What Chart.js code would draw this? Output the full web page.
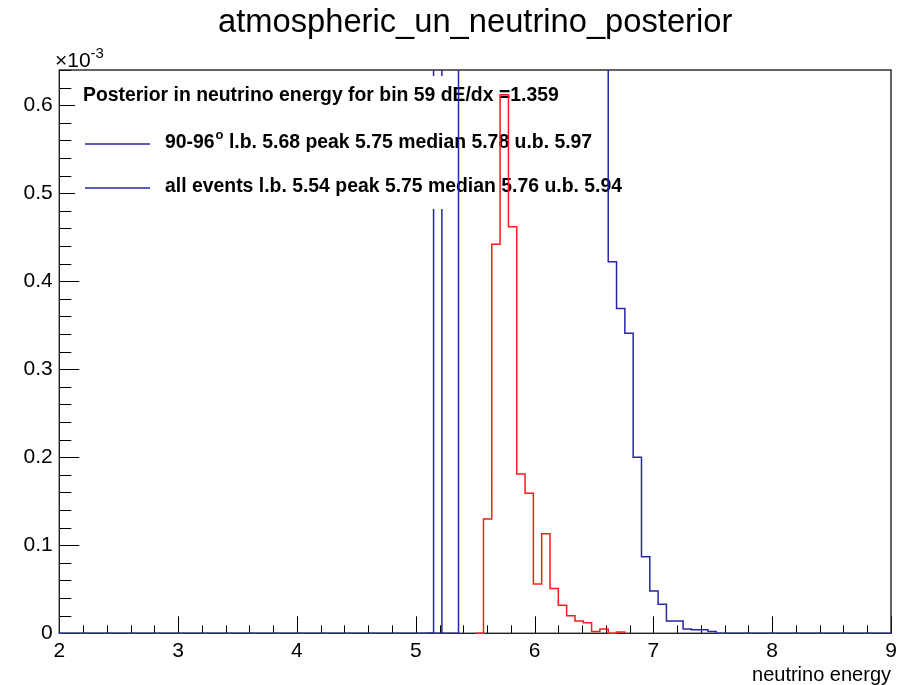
<!DOCTYPE html>
<html>
<head>
<meta charset="utf-8">
<script src="https://cdn.jsdelivr.net/npm/chart.js@4.4.1/dist/chart.umd.min.js"></script>
<style>
html,body{margin:0;padding:0;background:#fff;}
#wrap{width:905px;height:685px;position:relative;}
canvas{display:block;}
</style>
</head>
<body>
<div id="wrap"><canvas id="c" width="905" height="685"></canvas></div>
<script>
// ---------------- data ----------------
const xLow = 2, xHigh = 9, nBins = 100;        // histogram binning
const yMax = 0.64;                              // axis max, units of 1e-3
const xTickLabels = ['2', '3', '4', '5', '6', '7', '8', '9'];
const yTickLabels = ['0', '0.1', '0.2', '0.3', '0.4', '0.5', '0.6'];

// red posterior (no legend entry), units of 1e-3, starting at bin 51
const redFirstBin = 51;
const redValues = [0.130, 0.442, 0.612, 0.462, 0.181, 0.159, 0.056, 0.113, 0.051,
                   0.032, 0.020, 0.014, 0.012, 0.002, 0.005, 0.000, 0.0015];

// blue "90-96°": a single bin far above the frame (estimated)
const angFirstBin = 45;
const angValues = [3.0];

// blue "all events": bins 48-65 run above the frame (estimated), then the visible tail
const allFirstBin = 48;
const allValues = [1.1, 1.5, 1.9, 2.2, 2.4, 2.5, 2.5, 2.4, 2.2, 2.0, 1.8, 1.6, 1.4, 1.2, 1.0, 0.9, 0.8, 0.7,
                   0.422, 0.369, 0.341, 0.200, 0.087, 0.048, 0.033, 0.014, 0.014, 0.005, 0.004, 0.004, 0.002];

const titleText = 'atmospheric_un_neutrino_posterior';
const xAxisTitle = 'neutrino energy';
const legendHeader = 'Posterior in neutrino energy for bin 59 dE/dx =1.359';
const legendEntries = [
  { pre: '90-96', sup: 'o', post: ' l.b. 5.68 peak 5.75 median 5.78 u.b. 5.97' },
  { pre: 'all events l.b. 5.54 peak 5.75 median 5.76 u.b. 5.94', sup: '', post: '' }
];

// ---------------- helpers ----------------
const FONT = '"Liberation Sans", Arial, Helvetica, sans-serif';
const BLUE = '#2626a8';
const RED = '#ff1a1a';
const binW = (xHigh - xLow) / nBins;
function edge(k) { return xLow + k * binW; }
function histPoints(first, vals, fullRange) {
  const start = fullRange ? 0 : first - 1;
  const last = fullRange ? nBins - 1 : first + vals.length - 1;
  const pts = [];
  for (let k = start; k <= last; k++) {
    const v = (k >= first && k < first + vals.length) ? vals[k - first] : 0;
    pts.push({ x: edge(k), y: v });
  }
  pts.push({ x: edge(last + 1), y: 0 });
  return pts;
}

const rootPlugin = {
  id: 'rootStyle',
  beforeDatasetsDraw(chart) {
    const { ctx, chartArea: a, scales: { x, y } } = chart;
    ctx.save();
    ctx.strokeStyle = '#000';
    ctx.lineWidth = 1;
    ctx.beginPath();
    // y ticks (inward)
    for (let i = 0; i * 0.02 <= yMax + 1e-9; i++) {
      const py = Math.round(y.getPixelForValue(i * 0.02)) + 0.5;
      const len = (i % 5 === 0) ? 20 : 12;
      ctx.moveTo(a.left, py); ctx.lineTo(a.left + len, py);
    }
    // x ticks (inward)
    for (let i = 0; i <= 35; i++) {
      const px = Math.round(x.getPixelForValue(xLow + i * 0.2)) + 0.5;
      const len = (i % 5 === 0) ? 17 : 8;
      ctx.moveTo(px, a.bottom); ctx.lineTo(px, a.bottom - len);
    }
    ctx.stroke();
    ctx.lineWidth = 1.4;
    ctx.strokeStyle = '#222';
    ctx.strokeRect(a.left, a.top, a.right - a.left, a.bottom - a.top);
    ctx.restore();
  },
  afterDatasetDraw(chart, args) {
    if (chart.data.datasets[args.index].label !== 'ang') return;
    const { ctx, chartArea: a } = chart;
    const W = a.right - a.left;
    ctx.save();
    // legend box (white, no border)
    ctx.fillStyle = '#fff';
    ctx.fillRect(a.left + 0.019 * W, a.top + 6, 0.68 * W, 133);
    ctx.fillStyle = '#000';
    ctx.textBaseline = 'middle';
    ctx.font = 'bold 19.4px ' + FONT;
    ctx.fillText(legendHeader, 83, 96);
    const ys = [143, 187];
    legendEntries.forEach((e, i) => {
      ctx.strokeStyle = BLUE;
      ctx.lineWidth = 1.5;
      ctx.beginPath();
      ctx.moveTo(85, ys[i] + 1); ctx.lineTo(150, ys[i] + 1);
      ctx.stroke();
      let tx = 165;
      ctx.font = 'bold 19.4px ' + FONT;
      ctx.fillText(e.pre, tx, ys[i]);
      tx += ctx.measureText(e.pre).width;
      if (e.sup) {
        ctx.font = 'bold 13px ' + FONT;
        ctx.fillText(e.sup, tx + 1, ys[i] - 8);
        tx += ctx.measureText(e.sup).width + 1;
        ctx.font = 'bold 19.4px ' + FONT;
      }
      if (e.post) ctx.fillText(e.post, tx, ys[i]);
    });
    ctx.restore();
  },
  afterDraw(chart) {
    const { ctx } = chart;
    ctx.save();
    ctx.fillStyle = '#000';
    ctx.textBaseline = 'alphabetic';
    ctx.font = '21px ' + FONT;
    ctx.fillText('\u00d710', 55, 67);
    const w = ctx.measureText('\u00d710').width;
    ctx.font = '15px ' + FONT;
    ctx.fillText('-3', 55 + w, 58);
    ctx.restore();
  }
};

new Chart(document.getElementById('c').getContext('2d'), {
  type: 'line',
  data: {
    datasets: [
      { label: 'all', data: histPoints(allFirstBin, allValues, true), borderColor: BLUE, order: 1 },
      { label: 'red', data: histPoints(redFirstBin, redValues, false), borderColor: RED, order: 2 },
      { label: 'ang', data: histPoints(angFirstBin, angValues, false), borderColor: BLUE, order: 3 }
    ]
  },
  options: {
    responsive: false,
    animation: false,
    devicePixelRatio: 1,
    layout: { padding: { left: 0, right: 14, top: 0, bottom: 0 } },
    elements: {
      line: { borderWidth: 1.5, tension: 0, stepped: 'before', fill: false },
      point: { radius: 0, hoverRadius: 0, hitRadius: 0 }
    },
    datasets: { line: { clip: { left: 2, right: 2, top: 0, bottom: 2 } } },
    plugins: {
      legend: { display: false },
      tooltip: { enabled: false },
      title: {
        display: true, text: titleText, fullSize: false, color: '#000',
        font: { family: FONT, size: 32.7, weight: 'normal' },
        padding: { top: 3, bottom: 27.76 }
      }
    },
    scales: {
      x: {
        type: 'linear', min: xLow, max: xHigh,
        grid: { display: false, drawTicks: false },
        border: { display: false },
        afterFit: s => { s.height = 685 - 633.3; },
        ticks: {
          stepSize: 1, includeBounds: false, autoSkip: false, maxRotation: 0, minRotation: 0,
          padding: 5, color: '#000', font: { family: FONT, size: 21 },
          callback: (v, i) => xTickLabels[i]
        },
        title: {
          display: true, text: xAxisTitle, align: 'end', color: '#000',
          font: { family: FONT, size: 20, lineHeight: 1.0 }, padding: { top: 0, bottom: 0 }
        }
      },
      y: {
        type: 'linear', min: 0, max: yMax,
        grid: { display: false, drawTicks: false },
        border: { display: false },
        afterFit: s => { s.width = 59.3; },
        ticks: {
          stepSize: 0.1, includeBounds: false, autoSkip: false,
          padding: 6.6, color: '#000', font: { family: FONT, size: 21 },
          callback: (v, i) => yTickLabels[i]
        }
      }
    }
  },
  plugins: [rootPlugin]
});
</script>
</body>
</html>
